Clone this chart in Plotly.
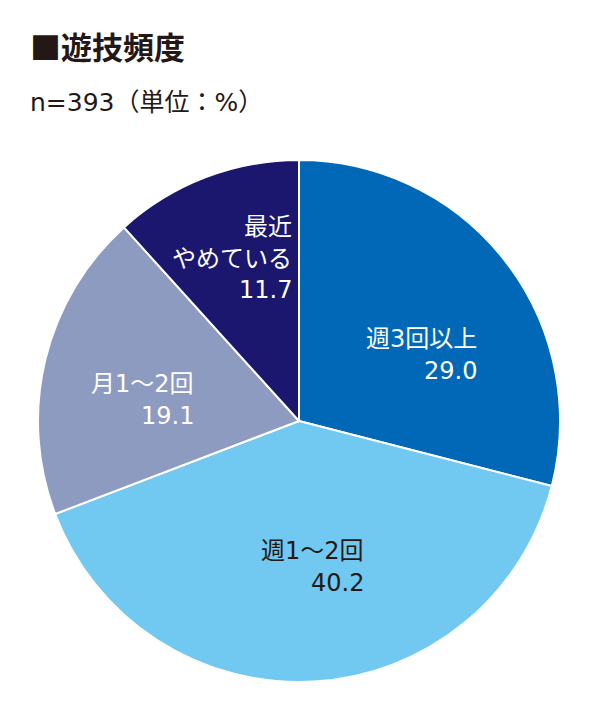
import plotly.graph_objects as go

# ---- data ----
categories = ["週3回以上", "週1～2回", "月1～2回", "最近\nやめている"]
values = [29.0, 40.2, 19.1, 11.7]
title_text = "■遊技頻度"
subtitle_text = "n=393（単位：%）"

# ---- styles / layout ----
colors = ["#0068b7", "#71c9f1", "#8e9bc0", "#1b176e"]
label_colors = ["#ffffff", "#231815", "#ffffff", "#ffffff"]
# right edge (px) and centre y (px) of the first line of each label block
label_pos = [(471, 331), (358, 543), (188, 376), (286, 219)]
LINE_STEP = 31.5

W, H = 614, 720
FONT = "DejaVu Sans, Noto Sans CJK JP"
CJK = "Noto Sans CJK JP"

cx, cy, R = 291, 413, 261

fig = go.Figure()
fig.add_trace(go.Pie(
    labels=categories,
    values=values,
    sort=False,
    direction="clockwise",
    rotation=0,
    marker=dict(colors=colors, line=dict(color="#ffffff", width=2)),
    textinfo="none",
    hoverinfo="label+value",
    showlegend=False,
    domain=dict(x=[(cx - R) / W, (cx + R) / W], y=[1 - (cy + R) / H, 1 - (cy - R) / H]),
))

annotations = []
for cat, val, col, (px, py) in zip(categories, values, label_colors, label_pos):
    lines = cat.split("\n") + [f"{val:.1f}"]
    for i, line in enumerate(lines):
        annotations.append(dict(
            x=px / W, y=1 - (py + i * LINE_STEP) / H, xref="paper", yref="paper",
            xanchor="right", yanchor="middle", align="right",
            text=line, showarrow=False,
            font=dict(family=FONT, size=24, color=col),
        ))

annotations.append(dict(
    x=20 / W, y=1 - 37 / H, xref="paper", yref="paper",
    xanchor="left", yanchor="middle", text=f"<b>{title_text}</b>",
    showarrow=False, font=dict(family=CJK, size=31, color="#231815"),
))
annotations.append(dict(
    x=20 / W, y=1 - 95 / H, xref="paper", yref="paper",
    xanchor="left", yanchor="middle", text=subtitle_text,
    showarrow=False, font=dict(family=FONT, size=25, color="#231815"),
))

fig.update_layout(
    width=W, height=H,
    margin=dict(l=0, r=0, t=0, b=0),
    paper_bgcolor="#ffffff", plot_bgcolor="#ffffff",
    annotations=annotations,
)

fig.write_html("out.html")
